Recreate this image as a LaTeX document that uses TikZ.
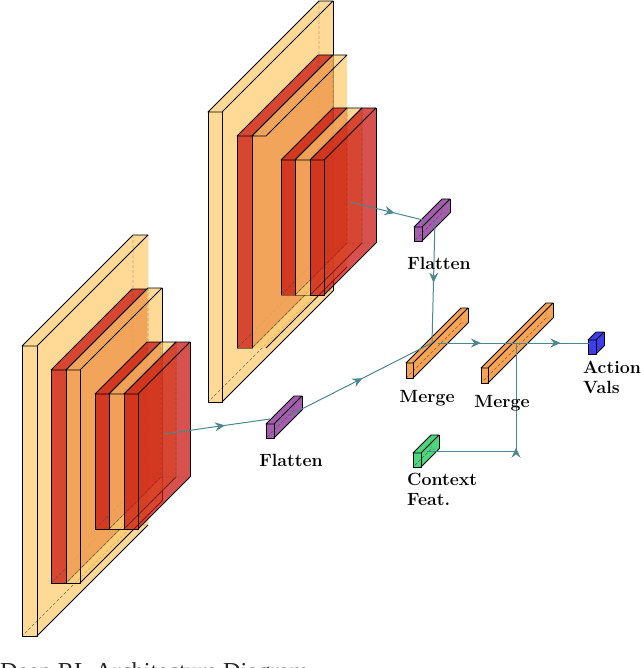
\documentclass[tikz,border=0pt]{standalone}
\usepackage{fontspec}
\newfontfamily\capfont{Liberation Serif}
\usetikzlibrary{arrows.meta,decorations.markings,calc}
\definecolor{cyel}{RGB}{255,202,108}
\definecolor{cred}{RGB}{200,14,10}
\definecolor{cora}{RGB}{247,163,84}
\definecolor{cpur}{RGB}{155,75,165}
\definecolor{cgrn}{RGB}{75,215,125}
\definecolor{cblu}{RGB}{60,60,240}
\definecolor{ctea}{RGB}{75,135,140}
\tikzset{
  x=1pt,y=-1pt,
  edge/.style={black,line width=0.9pt,line join=round},
  hidden/.style={black!70,densely dashed,line width=0.35pt},
  conn/.style={ctea,line width=1pt},
  midtip/.style={postaction={decorate},decoration={markings,mark=at position #1 with {\arrow[ctea,line width=0.8pt]{Stealth[length=10pt,width=9pt,inset=3.5pt]}}}},
  lab/.style={font=\fontsize{17.7}{21}\selectfont\bfseries,inner sep=0pt,align=left,text=black},
  yelbox/.style={fill=cyel,fill opacity=0.714},
  redbox/.style={fill=cred,fill opacity=0.72},
  orabox/.style={fill=cora},
  purbox/.style={fill=cpur,fill opacity=0.9},
  grnbox/.style={fill=cgrn},
  blubox/.style={fill=cblu},
}
% #1 name, #2 x, #3 y, #4 front width, #5 height, #6 depth, #7 fill style, #8 opacity of front-right and base edges, #9 opacity of back-right edge
\newcommand{\cub}[9]{%
  \coordinate (#1-fl) at (#2,#3);
  \coordinate (#1-fr) at ($(#1-fl)+(#4,0)$);
  \coordinate (#1-bl) at ($(#1-fl)+(0,#5)$);
  \coordinate (#1-br) at ($(#1-fr)+(0,#5)$);
  \coordinate (#1-tl) at ($(#1-fl)+(#6,-#6)$);
  \coordinate (#1-tr) at ($(#1-fr)+(#6,-#6)$);
  \coordinate (#1-ur) at ($(#1-br)+(#6,-#6)$);
  \coordinate (#1-ul) at ($(#1-bl)+(#6,-#6)$);
  \fill[#7] (#1-fl)--(#1-fr)--(#1-br)--(#1-bl)--cycle;
  \fill[#7] (#1-fr)--(#1-tr)--(#1-ur)--(#1-br)--cycle;
  \fill[#7] (#1-fl)--(#1-tl)--(#1-tr)--(#1-fr)--cycle;
  \draw[hidden] (#1-tl)--(#1-ul)--(#1-ur) (#1-ul)--(#1-bl);
  \draw[edge] (#1-fl)--(#1-bl);
  \draw[edge,draw opacity=#8] (#1-bl)--(#1-br)--(#1-fr);
  \draw[edge] (#1-fr)--(#1-fl)--(#1-tl)--(#1-tr)--(#1-fr);
  \draw[edge] (#1-br)--(#1-ur);
  \draw[edge,draw opacity=#9] (#1-tr)--(#1-ur);
  \coordinate (#1) at ($(#1-fl)!0.5!(#1-ur)$);
}
\begin{document}
\begin{tikzpicture}
\useasboundingbox (0,0) rectangle (640,668);
% left stack
\cub{la}{22}{346}{15}{290}{111}{yelbox}{1}{0.05}
\cub{lb}{51}{370}{15}{213}{81}{redbox}{1}{0.1}
\cub{lc}{66}{370}{14}{213}{82}{yelbox}{1}{1}
\cub{ld}{95}{394}{14}{135}{52}{redbox}{1}{0.1}
\cub{le}{109}{394}{15}{135}{52}{yelbox}{1}{0.1}
\cub{lf}{124}{394}{14}{135}{52}{redbox}{1}{1}
% top stack
\cub{ta}{208}{112}{14}{290}{111}{yelbox}{1}{1}
\cub{tb}{237}{136}{15}{212}{81}{redbox}{0.5}{0.1}
\cub{tc}{252}{136}{14}{212}{81}{yelbox}{0}{0}
\cub{td}{281}{160}{14}{135}{52}{redbox}{0.4}{0.1}
\cub{te}{295}{160}{15}{135}{52}{yelbox}{0.4}{0.1}
\cub{tf}{310}{160}{14}{135}{52}{redbox}{1}{1}
% small boxes
\cub{fla}{414}{227}{8}{14}{28}{purbox}{1}{1}
\cub{flb}{266}{424}{8}{14}{28}{purbox}{1}{1}
\cub{mga}{406}{363}{7}{15}{55}{orabox}{1}{1}
\cub{mgb}{481}{368}{7}{15}{65}{orabox}{1}{1}
\cub{act}{588}{340}{8}{14}{8}{blubox}{1}{1}
\cub{ctx}{413}{453}{8}{14}{18}{grnbox}{1}{1}
% connector end points
\coordinate (lout) at (164,434);
\coordinate (tout) at (350,202);
\coordinate (flbin) at (270,419);
\coordinate (flbout) at (290,415);
\coordinate (flain) at (427,221);
\coordinate (flaout) at (435,220);
\coordinate (mgain) at (432,343);
\coordinate (mgaout) at (438,343);
\coordinate (mgbc) at (516,343);
\coordinate (actin) at (590,343);
\coordinate (ctxout) at (427,451);
\coordinate (corner) at (516,451);
% connectors
\draw[conn,midtip=0.575] (lout)--(flbin);
\draw[conn,midtip=0.51] (flbout)--(mgain);
\draw[conn,midtip=0.58] (tout)--(flain);
\draw[conn,midtip=0.51] (flaout)--(mgain);
\draw[conn,midtip=0.55] (mgaout)--(mgbc);
\draw[conn,midtip=0.6] (mgbc)--(actin);
\draw[conn] (ctxout)--(corner);
\draw[conn,midtip=0.03] (corner)--(mgbc);
% labels
\node[lab] (t1) at (439,263) {Flatten};
\node[lab] (t2) at (291,460) {Flatten};
\node[lab] (t3) at (427,398) {Merge};
\node[lab] (t4) at (502,403) {Merge};
\node[lab,anchor=west] (t5) at (583,367) {Action};
\node[lab,anchor=west] (t6) at (583,387) {Vals};
\node[lab,anchor=west] (t7) at (407,479) {Context};
\node[lab,anchor=west] (t8) at (407,500) {Feat.};
\begin{scope}
\clip (0,0) rectangle (640,668);
\node[anchor=base west,inner sep=0pt,font=\capfont\fontsize{24.4}{28}\selectfont,text=black!85] (cap) at (0,679) {Deep RL Architecture Diagram};
\end{scope}
\end{tikzpicture}
\end{document}
